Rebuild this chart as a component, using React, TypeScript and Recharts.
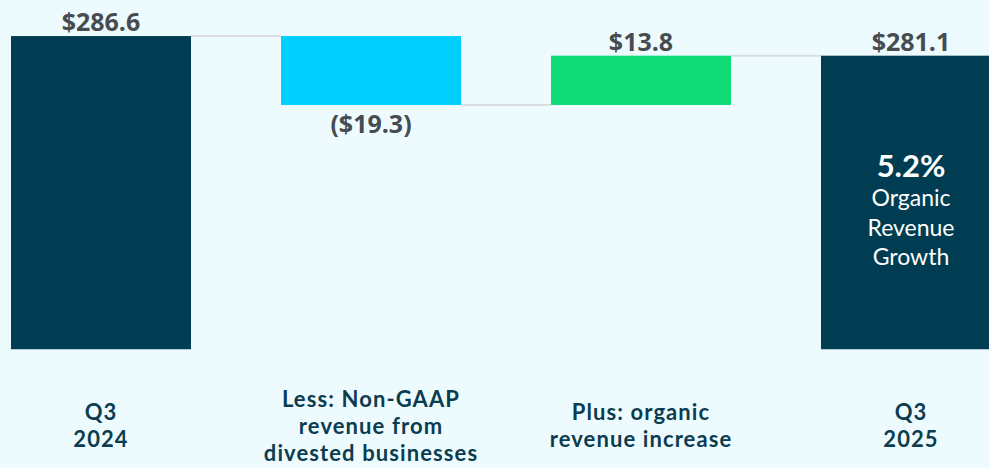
import { BarChart, Bar, XAxis, YAxis } from 'recharts'

const categories = [
  ['Q3', '2024'],
  ['Less: Non-GAAP', 'revenue from', 'divested businesses'],
  ['Plus: organic', 'revenue increase'],
  ['Q3', '2025'],
]
const valueLabels = ['$286.6', '($19.3)', '$13.8', '$281.1']
const lows = [198.8, 267.3, 267.3, 198.8]
const highs = [286.6, 286.6, 281.1, 281.1]
const kinds = ['total', 'down', 'up', 'total']
const growthNote = ['5.2%', 'Organic', 'Revenue', 'Growth']

const AXIS_MIN = 198.8
const AXIS_MAX = 296.7

const COLORS: Record<string, string> = {
  total: '#003d52',
  down: '#00cfff',
  up: '#0fdb77',
}

const data = categories.map((c, i) => ({
  name: c.join(' '),
  lines: c,
  range: [lows[i], highs[i]],
  kind: kinds[i],
  label: valueLabels[i],
}))

const BAND = 270
const BAR = 180
const FONT = '"Open Sans", "Noto Sans", sans-serif'
const TIGHT_FONT = 'Lato, "Open Sans", sans-serif'

function WaterfallBar(props: any) {
  const { x, y, width, height, index, payload } = props
  const bottom = y + height
  const gap = BAND - BAR
  // connector sits at the running total after this step
  const connY = payload.kind === 'down' ? bottom : y
  const hasNext = index < data.length - 1
  const labelY = payload.kind === 'down' ? bottom + 28 : y - 5
  return (
    <g>
      {hasNext && (
        <line x1={x + width} x2={x + width + gap} y1={connY} y2={connY} stroke="#d9dde0" strokeWidth={2} />
      )}
      <rect x={x} y={y} width={width} height={height} fill={COLORS[payload.kind]} />
      <text x={x + width / 2} y={labelY} textAnchor="middle" fontFamily={FONT} fontWeight={700} fontSize={25} fill="#474c50">
        {payload.label}
      </text>
      {index === data.length - 1 && (
        <g fontFamily={TIGHT_FONT} fill="#ffffff" textAnchor="middle">
          <text x={x + width / 2} y={177} fontSize={31} fontWeight={700}>{growthNote[0]}</text>
          {growthNote.slice(1).map((t, i) => (
            <text key={t} x={x + width / 2} y={206 + i * 29.5} fontSize={23}>{t}</text>
          ))}
        </g>
      )}
    </g>
  )
}

function CategoryTick(props: any) {
  const { x, y, payload } = props
  const lines: string[] = data[payload.index]?.lines ?? []
  const step = 27
  const first = y + 76 - ((lines.length - 1) * step) / 2 + 8
  return (
    <g>
      {lines.map((l, i) => (
        <text key={i} x={x} y={first + i * step} textAnchor="middle" fontFamily={TIGHT_FONT} fontWeight={700} fontSize={22} letterSpacing={1.1} fill="#0b3c4f">
          {l}
        </text>
      ))}
    </g>
  )
}

export default function App() {
  return (
    <div style={{ position: 'absolute', left: 0, top: 0, width: 989, height: 468, overflow: 'hidden', background: '#edfbff' }}>
      <div style={{ position: 'absolute', left: -34, top: 0 }}>
        <BarChart width={1080} height={468} data={data} margin={{ top: 0, right: 0, left: 0, bottom: 8.5 }}>
          <YAxis hide domain={[AXIS_MIN, AXIS_MAX]} allowDataOverflow />
          <XAxis
            dataKey="name"
            axisLine={false}
            tickLine={false}
            tickSize={0}
            tickMargin={0}
            height={110}
            interval={0}
            tick={<CategoryTick />}
          />
          <Bar dataKey="range" barSize={BAR} shape={<WaterfallBar />} isAnimationActive={false} />
        </BarChart>
      </div>
    </div>
  )
}
